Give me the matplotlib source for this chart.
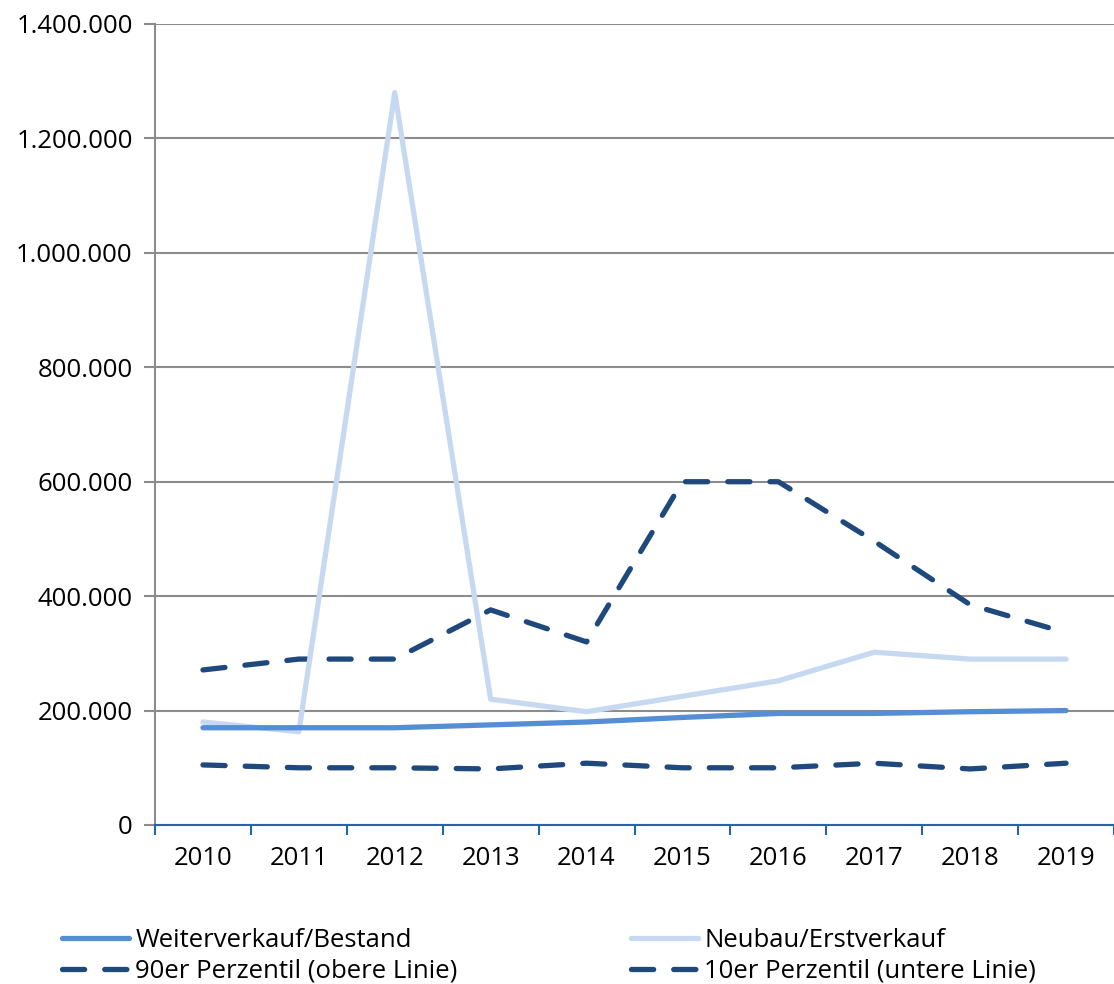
import matplotlib
matplotlib.use("Agg")
import matplotlib.pyplot as plt
from matplotlib.ticker import FuncFormatter, MultipleLocator
from matplotlib.lines import Line2D

years = ["2010", "2011", "2012", "2013", "2014", "2015", "2016", "2017", "2018", "2019"]
weiterverkauf = [170000, 170000, 170000, 175000, 180000, 188000, 195000, 195000, 198000, 200000]
neubau = [180000, 163000, 1280000, 220000, 198000, 225000, 252000, 302000, 290000, 290000]
p90 = [271000, 290000, 290000, 376000, 320000, 600000, 600000, 496000, 385000, 336000]
p10 = [105000, 100000, 100000, 98000, 108000, 100000, 100000, 108000, 98000, 108000]

labels = ["Weiterverkauf/Bestand", "Neubau/Erstverkauf",
          "90er Perzentil (obere Linie)", "10er Perzentil (untere Linie)"]

plt.rcParams['font.family'] = ['Open Sans', 'DejaVu Sans']
FS = 18.5

fig = plt.figure(figsize=(11.14, 9.84), dpi=100)
ax = fig.add_axes([155/1114, 1-825/984, 1-155/1114, (825-24)/984])

x = list(range(len(years)))
c_w = "#558ed5"
c_n = "#c6d9f1"
c_d = "#1f497d"
lw = 3.8
dsh = (4.2, 3.8)

ax.plot(x, p10, color=c_d, lw=lw, dashes=dsh, dash_capstyle='round', solid_joinstyle='round', zorder=3)
ax.plot(x, p90, color=c_d, lw=lw, dashes=dsh, dash_capstyle='round', solid_joinstyle='round', zorder=3)
ax.plot(x, neubau, color=c_n, lw=lw, solid_capstyle='round', solid_joinstyle='round', zorder=4)
ax.plot(x, weiterverkauf, color=c_w, lw=lw, solid_capstyle='round', solid_joinstyle='round', zorder=5)

ax.set_xlim(-0.5, 9.5)
ax.set_ylim(0, 1400000)
ax.yaxis.set_major_locator(MultipleLocator(200000))
ax.yaxis.set_major_formatter(FuncFormatter(lambda v, p: f"{int(v):,}".replace(",", ".")))
ax.set_xticks(x)
ax.set_xticklabels(years)
ax.set_xticks([i - 0.5 for i in range(11)], minor=True)
ax.tick_params(axis='x', which='major', length=0, pad=15, labelsize=FS)
ax.tick_params(axis='x', which='minor', length=7, width=1.5, color="#2a63ad", direction='out')
ax.tick_params(axis='y', length=8, width=1.5, color="#8c8c8c", labelsize=FS, pad=8)

ax.grid(axis='y', color="#8c8c8c", lw=1.5)
ax.set_axisbelow(True)
for s in ['top', 'right']:
    ax.spines[s].set_visible(False)
ax.spines['left'].set_color("#8c8c8c")
ax.spines['left'].set_linewidth(1.5)
ax.spines['bottom'].set_color("#2a63ad")
ax.spines['bottom'].set_linewidth(1.5)

h_w = Line2D([], [], color=c_w, lw=lw, solid_capstyle='round')
h_n = Line2D([], [], color=c_n, lw=lw, solid_capstyle='round')
h_d1 = Line2D([], [], color=c_d, lw=lw, dashes=dsh, dash_capstyle='round')
h_d2 = Line2D([], [], color=c_d, lw=lw, dashes=dsh, dash_capstyle='round')

kw = dict(loc='upper left', frameon=False, fontsize=FS, handlelength=2.6,
          handletextpad=0.25, labelspacing=0.22, borderpad=0, borderaxespad=0)
fig.legend([h_w, h_d1], [labels[0], labels[2]], bbox_to_anchor=(62/1114, 1-928/984), **kw)
fig.legend([h_n, h_d2], [labels[1], labels[3]], bbox_to_anchor=(631/1114, 1-928/984), **kw)

fig.savefig("out.png", dpi=100)
